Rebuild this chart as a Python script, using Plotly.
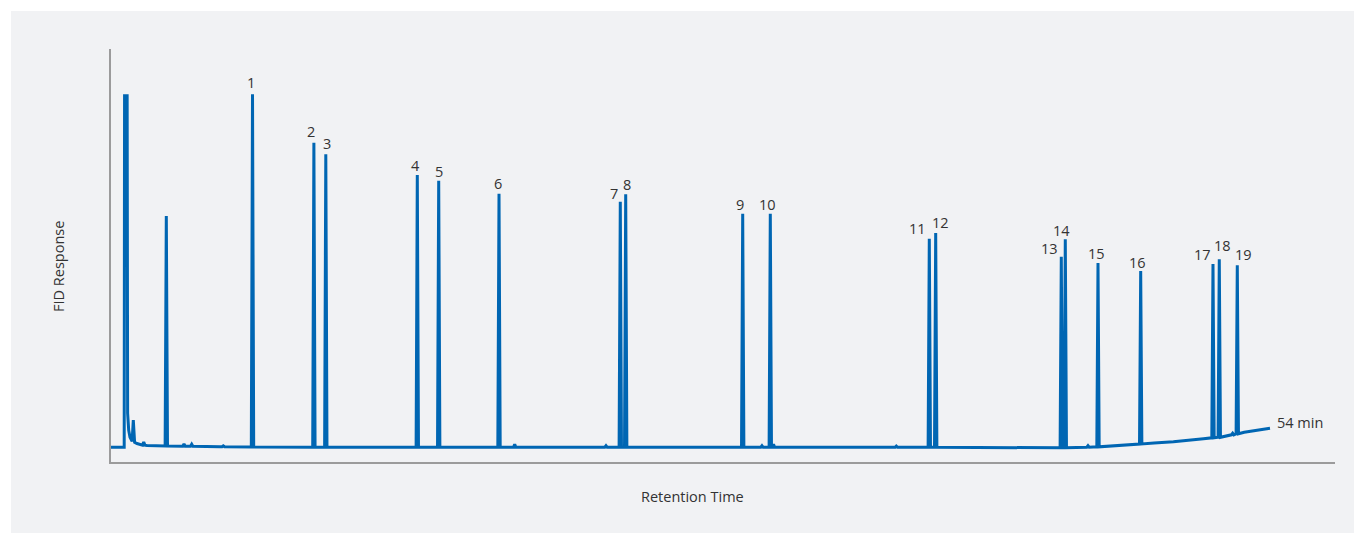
import plotly.graph_objects as go

# ---------------- data (minutes / relative FID response) ----------------
# solvent front profile
solvent_t = [0.0, 0.615, 0.632, 0.752, 0.775, 0.825]
solvent_v = [0.0, 0.0, 351.6, 351.6, 34.0, 17.0]

# baseline: solvent tail and late temperature-program drift
base_t = [0.885, 0.98, 1.10, 1.211, 1.677, 2.283, 5.079, 8.806, 42.0, 44.9, 46.8, 48.6, 49.5, 50.9, 51.9, 52.8, 54.0]
base_v = [10.0, 7.0, 5.0, 3.8, 1.8, 1.3, 0.6, 0.0, 0.0, -0.3, 1.5, 4.2, 5.5, 8.5, 11.0, 15.0, 19.0]

# peaks: retention time, apex response, baseline level under the peak, label
peak_t = [1.039, 1.524, 2.577, 3.401, 3.760, 5.232, 6.593, 9.453, 10.008, 14.271, 15.268,
          18.078, 18.809, 23.063, 23.729, 23.981, 29.432, 30.331, 30.718, 30.867, 36.589,
          38.126, 38.424, 44.276, 44.462, 45.520, 45.986, 47.975, 51.344, 51.637, 52.261, 52.476]
peak_v = [27.3, 5.3, 231.3, 3.3, 3.0, 1.5, 353.0, 304.6, 293.0, 272.3, 266.6,
          253.6, 3.0, 1.5, 245.6, 253.0, 233.6, 1.5, 233.6, 3.0, 1.2,
          208.6, 214.3, 190.6, 208.0, 1.5, 184.3, 176.3, 183.3, 188.0, 14.0, 182.0]
peak_base = [6.0, 2.2, 1.3, 1.0, 1.0, 0.6, 0.3, 0.0, 0.0, 0.0, 0.0,
             0.0, 0.0, 0.0, 0.0, 0.0, 0.0, 0.0, 0.0, 0.0, 0.0,
             0.0, 0.0, -0.5, -0.5, 0.0, 0.5, 3.3, 9.5, 10.0, 12.5, 13.5]
peak_label = ["", "", "", "", "", "", "1", "2", "3", "4", "5",
              "6", "", "", "7", "8", "9", "", "10", "", "",
              "11", "12", "13", "14", "", "15", "16", "17", "18", "", "19"]

end_label = "54 min"
end_t = 54.0
end_v = 19.0

# ---------------- style ----------------
HW = 0.055  # peak half-width at base (min)
LINE = "#0066b3"
TXT = "#333333"
BG = "#f1f2f4"
FONT = "Open Sans"
FS = 14.5
# label offsets (px) for labelled peaks 1..19
lab_dx = [-1.5, -2.9, 1.2, -2.3, 0.3, -1.3, -6.3, 1.3, -2.4, -3, -12, 5, -12, -3.6, -1.3, -3, -10.3, 3.4, 6]
lab_dy = [12.0, 10.7, 10.5, 10, 9.7, 10.4, 8.4, 10.3, 9.7, 9.7, 10.4, 11, 8.4, 9.3, 9.7, 8.7, 9.7, 14.3, 11]

# ---------------- build trace ----------------
pts = list(zip(solvent_t, solvent_v)) + list(zip(base_t, base_v))
for t, v, b in zip(peak_t, peak_v, peak_base):
    pts += [(t - HW, b), (t, v), (t + HW, b)]
pts.sort(key=lambda p: p[0])
xs = [p[0] for p in pts]
ys = [p[1] for p in pts]

fig = go.Figure()
fig.add_trace(go.Scatter(x=xs, y=ys, mode="lines",
                         line=dict(color=LINE, width=3), hoverinfo="skip"))

# page body adds an 8px offset; layout is expressed in figure pixels
W, H = 1354, 525
L, R, T, B = 103, 27, 41, 71
pw, ph = W - L - R, H - T - B


def px2x(px):
    return (px - L) / pw


def py2y(py):
    return (H - B - py) / ph


ann = []
k = 0
for t, v, lab in zip(peak_t, peak_v, peak_label):
    if lab:
        ann.append(dict(x=t, y=v, text=lab, showarrow=False, xanchor="center", yanchor="middle",
                        xshift=lab_dx[k], yshift=lab_dy[k], font=dict(size=FS, color=TXT, family=FONT)))
        k += 1
ann.append(dict(x=end_t, y=end_v, text=end_label, showarrow=False, xanchor="left", yanchor="middle",
                xshift=5, yshift=6, font=dict(size=FS, color=TXT, family=FONT)))
ann.append(dict(x=px2x(50), y=py2y(259), xref="paper", yref="paper", text="FID Response", textangle=-90,
                showarrow=False, xanchor="center", yanchor="middle",
                font=dict(size=FS, color=TXT, family=FONT)))
ann.append(dict(x=px2x(684), y=py2y(488), xref="paper", yref="paper", text="Retention Time",
                showarrow=False, xanchor="center", yanchor="middle",
                font=dict(size=FS, color=TXT, family=FONT)))

shapes = [
    dict(type="rect", xref="paper", yref="paper", x0=px2x(-5), x1=px2x(W + 5), y0=py2y(3), y1=py2y(-5),
         fillcolor="white", line=dict(width=0), layer="below"),
    dict(type="rect", xref="paper", yref="paper", x0=px2x(-5), x1=px2x(3), y0=py2y(H + 5), y1=py2y(-5),
         fillcolor="white", line=dict(width=0), layer="below"),
]

fig.update_layout(
    width=W, height=H,
    margin=dict(l=L, r=R, t=T, b=B),
    paper_bgcolor=BG, plot_bgcolor="rgba(0,0,0,0)",
    showlegend=False,
    annotations=ann, shapes=shapes,
    font=dict(family=FONT, color=TXT),
    xaxis=dict(range=[0, pw * 54 / 1159], showgrid=False, zeroline=False, showticklabels=False,
               ticks="", showline=True, linecolor="#9b9b9b", linewidth=2),
    yaxis=dict(range=[-14.7, 398.3], showgrid=False, zeroline=False, showticklabels=False,
               ticks="", showline=True, linecolor="#9b9b9b", linewidth=2),
)

fig.write_html("out.html")
